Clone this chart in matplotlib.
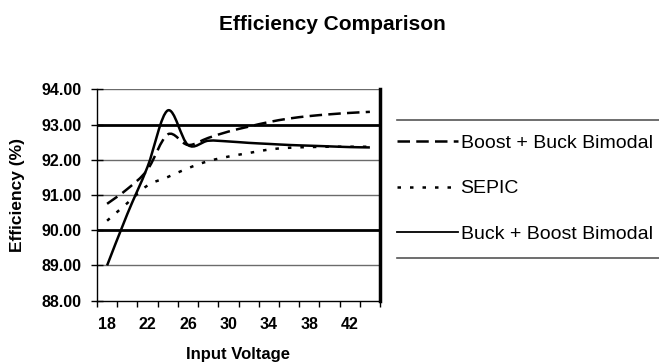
import matplotlib
matplotlib.use("Agg")
import matplotlib.pyplot as plt
from matplotlib.path import Path
from matplotlib.patches import PathPatch
from matplotlib.lines import Line2D
import numpy as np

plt.rcParams['font.family'] = ['Liberation Sans', 'DejaVu Sans']

# ---- data ----
voltage = [18, 20, 22, 24, 26, 28, 30, 32, 34, 36, 38, 40, 42, 44]
boost_buck = [90.75, 91.17, 91.72, 92.72, 92.42, 92.62, 92.80, 92.94, 93.07, 93.17, 93.24, 93.29, 93.33, 93.36]
sepic = [90.27, 90.77, 91.27, 91.51, 91.76, 91.96, 92.09, 92.19, 92.29, 92.34, 92.36, 92.37, 92.37, 92.37]
buck_boost = [89.00, 90.46, 91.80, 93.40, 92.42, 92.54, 92.52, 92.48, 92.45, 92.42, 92.40, 92.38, 92.36, 92.35]
labels = ["Boost + Buck Bimodal", "SEPIC", "Buck + Boost Bimodal"]
ytick_vals = [88, 89, 90, 91, 92, 93, 94]
xtick_labels = [18, 22, 26, 30, 34, 38, 42]

title = "Efficiency Comparison"
xlabel = "Input Voltage"
ylabel = "Efficiency (%)"


def smooth_path(xs, ys):
    """Excel-like smoothed line as cubic Bezier through the data points."""
    pts = np.column_stack([xs, ys]).astype(float)
    n = len(pts)
    verts = [pts[0]]
    codes = [Path.MOVETO]
    for i in range(n - 1):
        p0 = pts[i - 1] if i > 0 else pts[i]
        p1 = pts[i]
        p2 = pts[i + 1]
        p3 = pts[i + 2] if i + 2 < n else pts[i + 1]
        c1 = p1 + (p2 - p0) / 6.0
        c2 = p2 - (p3 - p1) / 6.0
        verts += [c1, c2, p2]
        codes += [Path.CURVE4] * 3
    return Path(verts, codes)


fig = plt.figure(figsize=(6.59, 3.64), dpi=100)
W, H = 659, 364
ax = fig.add_axes([97 / W, 1 - 300.7 / H, (380 - 97) / W, (300.7 - 89.3) / H])

ax.set_xlim(17, 45)
ax.set_ylim(88, 94)

# gridlines
for v in ytick_vals[1:]:
    if v in (90, 93):
        ax.axhline(v, color='black', lw=2.0, zorder=1)
    else:
        ax.axhline(v, color='#6b6b6b', lw=1.0, zorder=1)

styles = [
    dict(linestyle=(0, (5, 2.5))),
    dict(linestyle=(0, (1.4, 3.6))),
    dict(linestyle='-'),
]
series = [boost_buck, sepic, buck_boost]
lw = 1.8
handles = []
for ys, st, lab in zip(series, styles, labels):
    patch = PathPatch(smooth_path(voltage, ys), fill=False, edgecolor='black',
                      lw=lw, zorder=3, capstyle='butt', joinstyle='round', **st)
    ax.add_patch(patch)
    handles.append(Line2D([], [], color='black', lw=1.3 if st['linestyle'] == '-' else lw,
                          label=lab, **st))

# spines
ax.spines['top'].set_visible(False)
ax.spines['left'].set_color('black')
ax.spines['left'].set_linewidth(1.0)
ax.spines['bottom'].set_color('black')
ax.spines['bottom'].set_linewidth(1.0)
ax.spines['right'].set_color('black')
ax.spines['right'].set_linewidth(2.5)

# ticks
ax.set_yticks(ytick_vals)
ax.set_yticklabels([f"{v:.2f}" for v in ytick_vals], fontsize=11.5, fontweight='bold')
ax.tick_params(axis='y', direction='inout', length=8, width=1, pad=7)
ax.set_xticks(xtick_labels)
ax.set_xticklabels([str(v) for v in xtick_labels], fontsize=11.5, fontweight='bold')
ax.tick_params(axis='x', which='major', length=0, pad=12)
ax.set_xticks(np.arange(17, 46, 2), minor=True)
ax.tick_params(axis='x', which='minor', direction='out', length=4, width=1)

ax.set_ylabel(ylabel, fontsize=12.5, fontweight='bold', labelpad=12)

fig.text(0.505, 1 - 24 / H, title, ha='center', va='center', fontsize=15, fontweight='bold')
fig.text((97 + 380) / 2 / W, 1 - 355 / H, xlabel, ha='center', va='center',
         fontsize=12, fontweight='bold')

# legend
leg = ax.legend(handles=handles, loc='upper left',
                bbox_to_anchor=(397 / W, 1 - 134 / H), bbox_transform=fig.transFigure,
                frameon=False, fontsize=14, handlelength=3.15, handletextpad=0.12,
                labelspacing=1.45, borderpad=0, borderaxespad=0)

# legend box top / bottom borders
fig.add_artist(Line2D([397 / W, 1.0], [1 - 120 / H, 1 - 120 / H], color='#555555', lw=1.2,
                      transform=fig.transFigure))
fig.add_artist(Line2D([397 / W, 1.0], [1 - 258 / H, 1 - 258 / H], color='#555555', lw=1.2,
                      transform=fig.transFigure))

fig.savefig("out.png", dpi=100)
